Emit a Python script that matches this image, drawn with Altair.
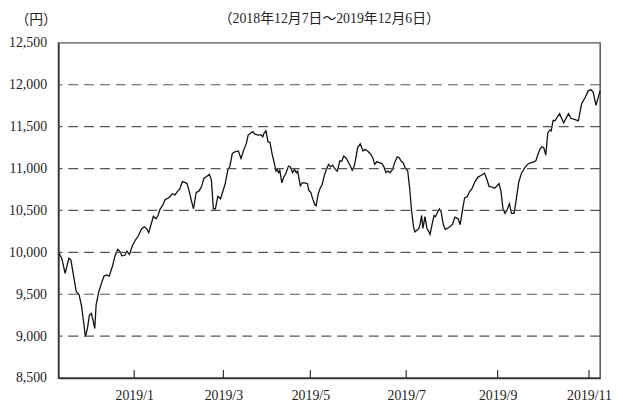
import altair as alt
import pandas as pd

# ---- data (trading-day index, fund value in yen) ----
days = [0, 1.5, 3.0, 4.7, 5.6, 6.8, 8.0, 9.2, 10.3, 11.5, 12.1, 13.0, 13.9, 14.8, 15.7, 16.3, 16.9, 18.1, 19.2, 20.4,
        21.6, 22.8, 24.3, 25.4, 26.6, 27.5, 28.4, 29.8, 30.7, 31.9, 33.1, 34.6, 35.8, 37.3, 38.5, 39.6, 40.5, 41.4, 42.6,
        43.8, 44.7, 45.5, 46.7, 47.9, 49.1, 50.2, 51.1, 52.3, 53.5, 54.4, 55.6, 56.8, 57.7, 58.8, 59.7, 60.6, 61.8, 63.0, 64.2,
        65.3, 66.5, 67.7, 68.6, 69.5, 70.4, 71.5, 72.7, 73.6, 74.8, 76.0, 76.9, 78.0, 79.2, 80.7, 81.9, 83.1, 84.3, 85.1, 86.3, 87.2,
        88.1, 89.6, 90.8, 91.7, 92.2, 93.1, 94.0, 94.9, 95.8, 96.7, 97.6, 98.1, 98.8, 99.3, 100.2, 101.1, 102.0, 103.2, 104.1, 105.0,
        105.9, 106.7, 107.3, 108.5, 109.4, 110.6, 111.7, 112.3, 113.2, 114.1, 115.0, 115.6, 116.5, 117.4, 118.3, 119.2, 120.3, 121.2, 122.1, 123.0,
        124.2, 125.1, 126.2, 127.1, 128.0, 128.9, 129.8, 130.9,
        131.8, 132.7, 133.3, 134.2, 135.4, 136.6, 137.5, 138.7, 139.8, 141.0, 141.9, 142.8, 144.0, 145.1, 146.0, 146.9, 147.8, 148.7, 149.9, 150.8,
        152.0, 152.9, 153.7, 154.6, 155.5, 156.7, 157.6, 158.4, 159.3, 159.9, 160.8, 161.7, 162.3, 162.9, 163.5, 164.4, 165.3, 166.2, 166.7, 167.6,
        168.5, 169.1, 170.0, 170.9, 171.7, 172.6, 173.5, 174.4, 175.6, 176.8,
        177.8, 179.3, 180.2, 181.4, 182.2, 183.4, 184.3, 185.5, 186.7, 188.1, 189.7, 191.1, 192.0, 193.2, 194.4, 195.6, 196.8, 197.6, 198.5, 199.4,
        200.3, 201.2, 202.3, 203.2, 204.4, 205.3, 206.5, 207.7, 209.2, 210.6, 212.1, 213.3, 214.2, 215.1, 216.0, 216.8, 217.7, 218.6, 219.5, 220.4,
        221.0, 221.9, 222.7, 224.8, 226.6, 228.8, 229.8, 231.8, 233.2, 234.7, 236.2, 237.7, 238.9, 239.9, 241.1, 243]

values = [10000, 9930, 9750, 9930, 9910, 9720, 9530, 9500, 9370, 9130, 8990, 9090, 9250, 9270, 9170, 9090, 9370, 9530, 9620, 9715,
          9730, 9715, 9840, 9960, 10035, 10015, 9960, 9965, 10015, 9975, 10075, 10150, 10195, 10280, 10305, 10280, 10235, 10320, 10430,
          10400, 10440, 10510, 10560, 10630, 10645, 10670, 10700, 10685, 10730, 10755, 10845, 10835, 10820, 10715, 10610, 10520, 10715, 10730, 10785,
          10885, 10905, 10930, 10865, 10520, 10520, 10670, 10640, 10715, 10820, 10985, 11025, 11180, 11200, 11210, 11120, 11220, 11300, 11400, 11425, 11440,
          11410, 11400, 11405, 11380, 11420, 11450, 11320, 11310, 11180, 11080, 10970, 10990, 10950, 10980, 10830, 10900, 10940, 11030, 11020, 10950,
          10990, 10950, 10970, 10795, 10830, 10830, 10820, 10740, 10715, 10635, 10570, 10555, 10695, 10765, 10810, 10910, 11000, 11050, 11020, 11040,
          10990, 10970, 11090, 11090, 11150, 11130, 11090, 11030,
          10980, 11030, 11110, 11250, 11295, 11210, 11230, 11210, 11180, 11130, 11050, 11080, 11070, 11060, 11020, 10950, 10970, 10950, 10990, 11070,
          11140, 11130, 11090, 11070, 11010, 10970, 10750, 10500, 10300, 10245, 10265, 10285, 10345, 10440, 10285, 10425, 10285, 10245, 10215, 10335,
          10440, 10425, 10475, 10520, 10480, 10335, 10275, 10285, 10305, 10335,
          10420, 10400, 10330, 10530, 10650, 10665, 10720, 10760, 10835, 10895, 10920, 10945, 10885, 10785, 10780, 10765, 10795, 10820, 10730, 10520,
          10465, 10505, 10580, 10465, 10465, 10620, 10840, 10945, 11010, 11055, 11070, 11080, 11095, 11170, 11230, 11260, 11250, 11160, 11425, 11460,
          11450, 11575, 11570, 11655, 11545, 11655, 11600, 11585, 11570, 11775, 11845, 11930, 11940, 11910, 11755, 11930]

y_ticks = [8500, 9000, 9500, 10000, 10500, 11000, 11500, 12000, 12500]
grid_values = [9000, 9500, 10000, 10500, 11000, 11500, 12000]
tick_days = [34, 74, 113, 156, 197, 238]
tick_labels = ["2019/1", "2019/3", "2019/5", "2019/7", "2019/9", "2019/11"]
title_text = "（2018年12月7日～2019年12月6日）"
unit_text = "（円）"

W, H = 548, 339
FONT = "'Liberation Serif', 'Noto Sans CJK JP', serif"
TXT = "#222222"

df = pd.DataFrame({"day": days, "value": values})
x_scale = alt.Scale(domain=[0, 243], nice=False, zero=False)
y_scale = alt.Scale(domain=[8500, 12500], nice=False, zero=False)

label_expr = " : ".join(f"datum.value == {d} ? '{l}'" for d, l in zip(tick_days, tick_labels)) + " : ''"

x_axis = alt.Axis(
    values=tick_days, labelExpr=label_expr, ticks=False, tickSize=0, grid=False,
    domainColor="#333333", domainWidth=1.5, labelFont=FONT, labelFontSize=14,
    labelColor=TXT, labelPadding=11, title=None, labelFlush=False, labelOverlap=False)
y_axis = alt.Axis(
    values=y_ticks, format=",.0f", ticks=False, tickSize=0, grid=False,
    domainColor="#333333", domainWidth=1.5, labelFont=FONT, labelFontSize=14,
    labelColor=TXT, labelPadding=12, labelFlush=False, labelOverlap=False,
    title=unit_text, titleAngle=0, titleX=-23, titleY=-24, titleAlign="center",
    titleBaseline="middle", titleFont=FONT, titleFontSize=14, titleFontWeight="normal",
    titleColor=TXT)

line = alt.Chart(df).mark_line(color="#111111", strokeWidth=1.3).encode(
    x=alt.X("day:Q", scale=x_scale, axis=x_axis),
    y=alt.Y("value:Q", scale=y_scale, axis=y_axis),
)

grid = alt.Chart(pd.DataFrame({"value": grid_values})).mark_rule(
    color="#555555", strokeDash=[10, 6], strokeWidth=1.2
).encode(y=alt.Y("value:Q", scale=y_scale, axis=y_axis))

ticks = alt.Chart(pd.DataFrame({"day": tick_days})).mark_rule(
    color="#333333", strokeWidth=1.2
).encode(
    x=alt.X("day:Q", scale=x_scale, axis=x_axis),
    y=alt.value(H),
    y2=alt.value(H - 8),
)

title = alt.Chart(pd.DataFrame({"t": [title_text]})).mark_text(
    font=FONT, fontSize=14, color=TXT, align="center", baseline="middle"
).encode(text="t:N", x=alt.value(W / 2), y=alt.value(-24))

chart = alt.layer(line, grid, ticks, title).properties(
    width=W, height=H,
    autosize=alt.AutoSizeParams(type="none"),
    padding={"left": 51, "top": 33, "right": 15, "bottom": 23},
).configure_view(stroke="#555555", strokeWidth=1.5)

chart.save("out.html", embed_options={"renderer": "svg", "actions": False})
